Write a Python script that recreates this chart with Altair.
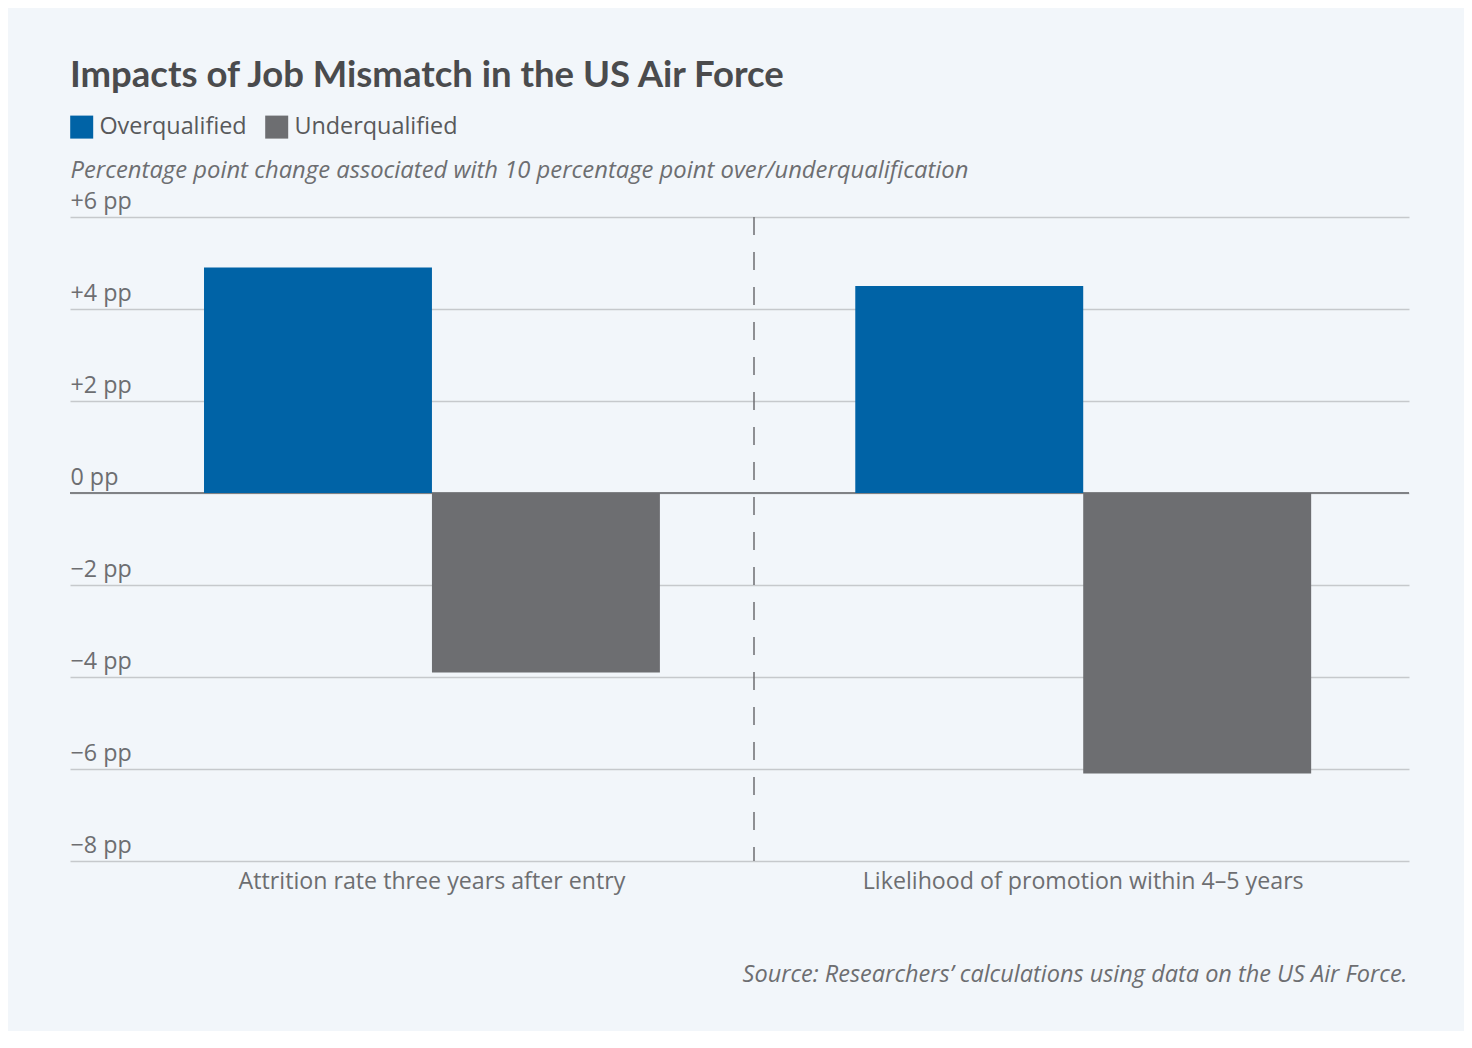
import altair as alt
import pandas as pd

categories = ["Attrition rate three years after entry", "Likelihood of promotion within 4–5 years"]
groups = ["Overqualified", "Underqualified"]
overqualified = [4.9, 4.5]
underqualified = [-3.9, -6.1]
y_ticks = [-8, -6, -4, -2, 0, 2, 4, 6]
colors = ["#0063a6", "#6d6e71"]

title_text = "Impacts of Job Mismatch in the US Air Force"
subtitle_text = "Percentage point change associated with 10 percentage point over/underqualification"
source_text = "Source: Researchers\u2019 calculations using data on the US Air Force."

rows = []
for c, o, u in zip(categories, overqualified, underqualified):
    rows.append({"category": c, "group": groups[0], "value": o})
    rows.append({"category": c, "group": groups[1], "value": u})
df = pd.DataFrame(rows)

W, H = 1339, 644
FONT = "Open Sans"
TFONT = "Lato"
GRAY = "#6d6e71"

label_expr = ("datum.value > 0 ? '+' + datum.value + ' pp' : "
              "(datum.value < 0 ? '\u2212' + abs(datum.value) + ' pp' : '0 pp')")

x_enc = alt.X(
    "category:N", sort=categories,
    scale=alt.Scale(paddingInner=0.3, paddingOuter=0.178, align=0.578),
    axis=alt.Axis(
        title=source_text, titleFont=FONT, titleFontStyle="italic", titleFontWeight="normal",
        titleFontSize=23.5, titleColor=GRAY, titleAlign="right", titleBaseline="alphabetic",
        titleX=W - 2, titleY=120, titleAngle=0,
        labelAngle=0, labelFont=FONT, labelFontSize=23.2, labelColor=GRAY, labelPadding=9,
        labelBaseline="top", labelLimit=800, ticks=False, domain=False, grid=False,
    ),
)

y_enc = alt.Y(
    "value:Q", scale=alt.Scale(domain=[-8, 6], nice=False, zero=False),
    axis=alt.Axis(
        title=subtitle_text, titleAngle=0, titleAlign="left", titleBaseline="alphabetic",
        titleX=0, titleY=-40, titleFont=FONT, titleFontStyle="italic", titleFontWeight="normal",
        titleFontSize=23.8, titleColor=GRAY, titleLimit=1400,
        values=y_ticks, labelExpr=label_expr, labelAlign="left", labelBaseline="alphabetic",
        labelOffset=-9, labelPadding=0, ticks=False, tickSize=0, domain=False,
        grid=True, gridColor="#c6c9cc", gridWidth=1.5, labelOverlap=False,
        labelFont=FONT, labelFontSize=23.3, labelColor=GRAY, labelFlush=False,
    ),
)

zero = alt.Chart(pd.DataFrame({"z": [0]})).mark_rule(color="#808285", strokeWidth=2).encode(
    y=alt.datum(0)
)

bars = alt.Chart(df).mark_bar().encode(
    x=x_enc,
    xOffset=alt.XOffset("group:N", sort=groups, scale=alt.Scale(paddingInner=0, paddingOuter=0)),
    y=y_enc,
    color=alt.Color(
        "group:N", sort=groups, scale=alt.Scale(domain=groups, range=colors),
        legend=alt.Legend(
            title=None, orient="none", legendX=0, legendY=-102, direction="horizontal",
            symbolType="square", symbolSize=529, symbolStrokeWidth=0, symbolOpacity=1,
            labelFont=FONT, labelFontSize=23.4, labelColor="#58595b", labelOffset=6,
            columnPadding=18, labelLimit=400, padding=0,
        ),
    ),
)

sep = alt.Chart(pd.DataFrame({"s": [0]})).mark_rule(
    color=GRAY, strokeWidth=1.5, strokeDash=[18, 17]
).encode(x=alt.value(684), y=alt.value(0), y2=alt.value(H))

chart = alt.layer(zero, bars, sep).properties(
    width=W, height=H,
    autosize=alt.AutoSizeParams(type="none"),
    padding={"left": 62, "top": 209, "right": 55, "bottom": 170},
    background="#f2f6fa",
    title=alt.TitleParams(
        text=title_text, anchor="start", font=TFONT, fontSize=36.5, fontWeight="bold",
        color="#4a4b4d", frame="group", offset=21,
    ),
).configure_view(stroke=None)

chart.save("out.html", embed_options={"renderer": "svg", "actions": False})
